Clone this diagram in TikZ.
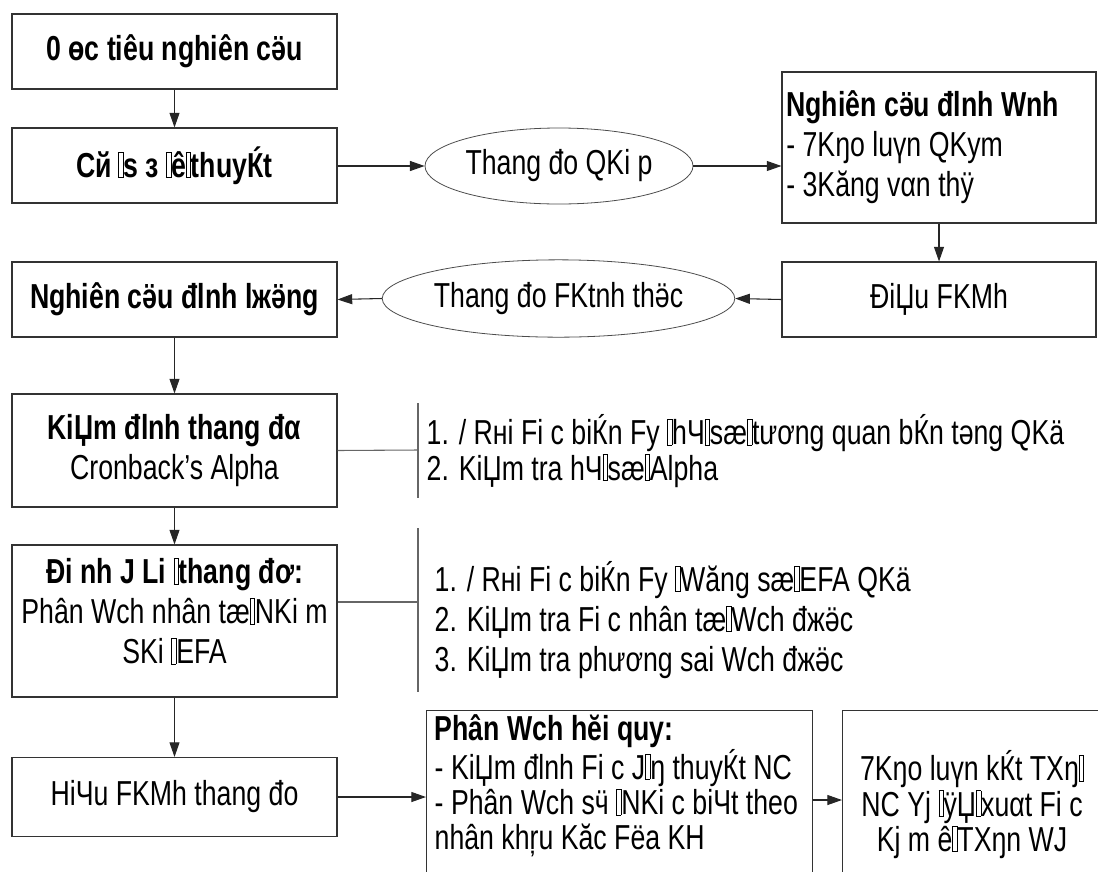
\documentclass[tikz,border=0pt]{standalone}
\usepackage{fontspec}
\setmainfont[FakeStretch=0.77]{Liberation Sans}
\usetikzlibrary{arrows.meta,shapes.geometric}
% small empty glyph box, as the picture prints it
\newcommand\tf{{\fboxsep=0pt\fboxrule=0.4pt\fbox{\vphantom{l}\hspace{3pt}}}}
\begin{document}
\begin{tikzpicture}[x=0.75pt, y=-0.75pt,
  every node/.style={font=\fontsize{26}{30}\selectfont},
  tight/.style={font=\fontsize{26}{26.5}\selectfont},
  box/.style={draw=black!80, line width=0.8pt, minimum width=243.75pt, minimum height=56.25pt, inner sep=0pt, align=center},
  oval/.style={draw=black!70, line width=0.6pt, ellipse, minimum width=201pt, minimum height=57pt, inner sep=0pt},
  flow/.style={draw=black!85, line width=0.8pt, -{Triangle[length=11pt,width=7.5pt]}},
  link/.style={draw=black!60, line width=0.8pt}]
\useasboundingbox (0,0) rectangle (1098,871);
% left column
\node[box] (goal) at (174.5,51.5) {\textbf{0 өc tiêu nghiên cӛu}};
\node[box] (base) at (174.5,165.5) {\textbf{Cй\,\tf s з \tf ê\tf thuyЌt}};
\node[box] (quant) at (174.5,299.5) {\textbf{Nghiên cӛu đlnh lжӛng}};
\node[box, minimum height=84.75pt] (alpha) at (174.5,450.5) {\textbf{KiЏm đlnh thang đα}\\Cronback’s Alpha};
\node[box, minimum height=114pt] (efa) at (174.5,621) {};
\node[align=center] (efatxt) at (174.5,611) {\textbf{Đi nh J Li \tf thang đơ:}\\Phân Wch nhân tæ\tf NKi m\\SKi \tf EFA};
\node[box, minimum height=59.25pt] (valid) at (174.5,797) {HiЧu FKMh thang đo};
% ellipses
\node[oval] (draft) at (559,166) {Thang đo QKi p};
\node[oval, minimum width=200pt, minimum height=58pt] (final) at (558.5,298.5) {Thang đo FKtnh thӛc};
% right column
\node[box, minimum width=235.5pt, minimum height=113.25pt, text width=229pt, align=flush left] (qual) at (939,147.5)
  {\textbf{Nghiên cӛu đlnh Wnh}\\- 7Kŋo luүn QKym\\- 3Kăng vαn thÿ};
\node[box, minimum width=235.5pt] (adj) at (939,299.5) {ĐiЏu FKMh};
% bottom row
\node[box, minimum width=289.5pt, minimum height=150pt, anchor=north west] (regr) at (426,710) {};
\node[tight, anchor=north west, align=left] (regrtxt) at (430,710)
  {\textbf{Phân Wch hĕi quy:}\\- KiЏm đlnh Fi c J\tf ŋ thuyЌt NC\\- Phân Wch sӵ \tf NKi c biЧt theo\\nhân khŗu Kăc Fëa KH};
\node[box, minimum width=210pt, minimum height=150pt, anchor=north west] (concl) at (842,710) {};
\node[tight, anchor=north, align=center] (concltxt) at (972,746)
  {7Kŋo luүn kЌt TXŋ\tf\\NC Yj \tf ÿЏ\tf xuαt Fi c\\Kj m ê\tf TXŋn WJ};
% notes beside the tests
\coordinate (n1) at (418,450);
\coordinate (n1top) at (418,403);
\coordinate (n1bot) at (418,498);
\node[tight, anchor=west, align=left] (alphanote) at (422,451)
  {1. / Rнi Fi c biЌn Fy \tf hЧ\tf sæ\tf tương quan bЌn tәng QKä\\2. KiЏm tra hЧ\tf sæ\tf Alpha};
\coordinate (n2) at (418,602);
\coordinate (n2top) at (418,528);
\coordinate (n2bot) at (418,692);
\node[anchor=west, align=left] (efanote) at (430,620)
  {1. / Rнi Fi c biЌn Fy \tf Wăng sæ\tf EFA QKä\\2. KiЏm tra Fi c nhân tæ\tf Wch đжӛc\\3. KiЏm tra phương sai Wch đжӛc};
% connectors
\draw[flow] (goal) -- (base);
\draw[flow] (base.east |- draft.west) -- (draft.west);
\draw[flow] (draft.east) -- (qual.west |- draft.east);
\draw[flow] (qual.south) -- (adj.north -| qual.south);
\draw[flow] (adj.west) -- (final.east);
\draw[flow] (final.west) -- (quant.east);
\draw[flow] (quant) -- (alpha);
\draw[flow] (alpha) -- (efa);
\draw[flow] (efa) -- (valid);
\draw[flow] (valid.east) -- (valid.east -| regr.west);
\draw[flow] (regr.east |- 0,800) -- (concl.west |- 0,800);
\draw[link] (alpha.east) -- (n1);
\draw[link] (n1top) -- (n1bot);
\draw[link] (efa.east |- n2) -- (n2);
\draw[link] (n2top) -- (n2bot);
\end{tikzpicture}
\end{document}
